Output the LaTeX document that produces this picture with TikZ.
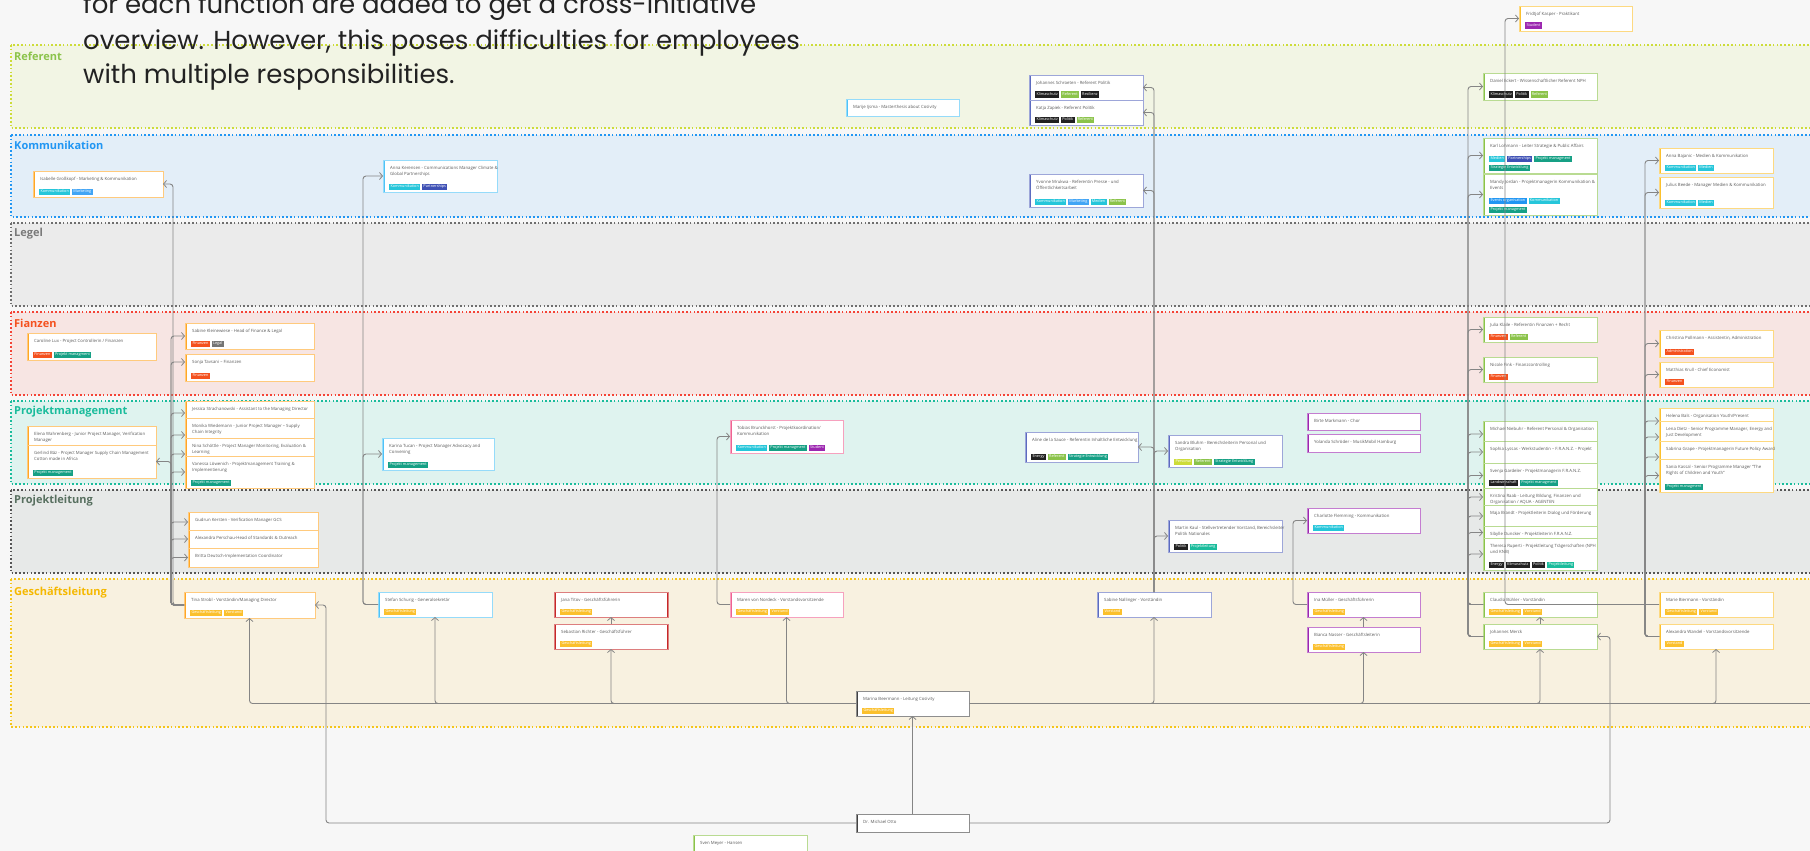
\documentclass[tikz,border=0pt]{standalone}
\usepackage{fontspec}
\setmainfont{Open Sans}
\newfontfamily\popfont{Poppins}
\usetikzlibrary{arrows.meta}

% page and lane colours
\definecolor{bgc}{HTML}{F7F7F7}
\definecolor{txt}{HTML}{5A5A5A}
\definecolor{wire}{HTML}{858585}
\definecolor{introtxt}{HTML}{222222}
\definecolor{fRef}{HTML}{F2F5E4}\definecolor{dRef}{HTML}{CDDC39}\definecolor{lRef}{HTML}{8BC34A}
\definecolor{fKom}{HTML}{E3EEF8}\definecolor{dKom}{HTML}{2196F3}\definecolor{lKom}{HTML}{2196F3}
\definecolor{fLeg}{HTML}{EBEBEB}\definecolor{dLeg}{HTML}{6E6E6E}\definecolor{lLeg}{HTML}{7A7A7A}
\definecolor{fFin}{HTML}{F7E5E3}\definecolor{dFin}{HTML}{F44336}\definecolor{lFin}{HTML}{F4511E}
\definecolor{fPM}{HTML}{DFF3EF}\definecolor{dPM}{HTML}{1ABC9C}\definecolor{lPM}{HTML}{1ABC9C}
\definecolor{fPL}{HTML}{E7E9E8}\definecolor{dPL}{HTML}{555555}\definecolor{lPL}{HTML}{587060}
\definecolor{fGL}{HTML}{F8F1E0}\definecolor{dGL}{HTML}{F5C518}\definecolor{lGL}{HTML}{F5B800}
% card accents
\definecolor{cOrange}{HTML}{FFA726}
\definecolor{cSky}{HTML}{4FC3F7}
\definecolor{cIndigo}{HTML}{5C6BC0}
\definecolor{cPurple}{HTML}{9C27B0}
\definecolor{cRed}{HTML}{C62828}
\definecolor{cPink}{HTML}{F06292}
\definecolor{cDark}{HTML}{424242}
\definecolor{cGreen}{HTML}{8BC34A}
\definecolor{cYellow}{HTML}{FBC02D}
% tag colours
\definecolor{tKom}{HTML}{26C6DA}
\definecolor{tMkt}{HTML}{42A5F5}
\definecolor{tPart}{HTML}{3F51B5}
\definecolor{tFin}{HTML}{F4511E}
\definecolor{tLegal}{HTML}{757575}
\definecolor{tPM}{HTML}{16A085}
\definecolor{tGL}{HTML}{FBC02D}
\definecolor{tBlack}{HTML}{212121}
\definecolor{tRef}{HTML}{8BC34A}
\definecolor{tPers}{HTML}{CDDC39}
\definecolor{tEvents}{HTML}{2196F3}
\definecolor{tStud}{HTML}{9C27B0}
\definecolor{tPL}{HTML}{1ABC9C}

% small coloured label inside a card
\newcommand\ctag[2]{{\setlength{\fboxsep}{1.3pt}\colorbox{#1}{\color{white}\rule[-1.1pt]{0pt}{4.1pt}#2}}\hspace{2pt}}

% card: name, x1, y1, x2, y2, style, title, tags
\newcommand\card[8]{%
  \node[#6, minimum width=#4pt-#2pt, minimum height=#5pt-#3pt] (#1) at (#2,#3) {};
  \node[cardtitle] (#1-t) at ([xshift=7pt,yshift=-6pt]#1.north west) {#7};
  \node[cardtags] (#1-g) at ([xshift=6pt,yshift=1.6pt]#1.south west) {#8};
}

\tikzset{
  lane/.style={fill=#1},
  laneline/.style={draw=#1, dash pattern=on 1.6pt off 2.2pt, line width=1.4pt},
  lanelabel/.style={anchor=west, inner sep=0pt, text=#1, font=\bfseries\fontsize{11}{13}\selectfont},
  card/.style={draw=#1!60, fill=white, line width=0.6pt, anchor=north west, inner sep=0pt, outer sep=0pt,
    path picture={\fill[#1] (path picture bounding box.south west) rectangle ([xshift=1.8pt]path picture bounding box.north west);}},
  cardlr/.style={card=#1,
    path picture={\fill[#1] (path picture bounding box.south west) rectangle ([xshift=1.8pt]path picture bounding box.north west);
                  \fill[#1] (path picture bounding box.south east) rectangle ([xshift=-1.5pt]path picture bounding box.north east);}},
  cardtitle/.style={anchor=north west, inner sep=0pt, align=left, text=txt, font=\fontsize{4.3}{6}\selectfont},
  cardtags/.style={anchor=south west, inner sep=0pt, align=left, font=\fontsize{3.8}{9}\selectfont},
  conn/.style={draw=wire, line width=0.9pt, rounded corners=3pt, -{Straight Barb[length=3pt,width=7pt,line width=0.8pt]}},
  wireline/.style={draw=wire, line width=0.9pt},
  intro/.style={anchor=base west, inner sep=0pt, text=introtxt, font=\popfont\fontsize{26}{34}\selectfont}
}

\begin{document}
\begin{tikzpicture}[x=1pt,y=-1pt]
\useasboundingbox (0,0) rectangle (1810,851);
\clip (0,0) rectangle (1810,851);
\fill[bgc] (0,0) rectangle (1810,851);

% swimlanes
\path[lane=fRef] (11,45) rectangle (1830,128);
\path[lane=fKom] (11,135) rectangle (1830,217);
\path[lane=fLeg] (11,223) rectangle (1830,306);
\path[lane=fFin] (11,312) rectangle (1830,395);
\path[lane=fPM]  (11,401) rectangle (1830,484);
\path[lane=fPL]  (11,490) rectangle (1830,573);
\path[lane=fGL]  (11,579) rectangle (1830,727);
\draw[laneline=dRef] (11,45) rectangle (1830,128);
\draw[laneline=dKom] (11,135) rectangle (1830,217);
\draw[laneline=dLeg] (11,223) rectangle (1830,306);
\draw[laneline=dFin] (11,312) rectangle (1830,395);
\draw[laneline=dPM]  (11,401) rectangle (1830,484);
\draw[laneline=dPL]  (11,490) rectangle (1830,573);
\draw[laneline=dGL]  (11,579) rectangle (1830,727);

\node[lanelabel=lRef] (lblRef) at (14,56) {Referent};
\node[lanelabel=lKom] (lblKom) at (14,145) {Kommunikation};
\node[lanelabel=lLeg] (lblLeg) at (14,234) {Legel};
\node[lanelabel=lFin] (lblFin) at (14,323) {Fianzen};
\node[lanelabel=lPM]  (lblPM)  at (14,412) {Projektmanagement};
\node[lanelabel=lPL]  (lblPL)  at (14,501) {Projektleitung};
\node[lanelabel=lGL]  (lblGL)  at (14,593) {Geschäftsleitung};

% explanatory text
\node[intro] (intro1) at (83,14) {for each function are added to get a cross-initiative};
\node[intro] (intro2) at (83,49) {overview. However, this poses difficulties for employees};
\node[intro] (intro3) at (83,84) {with multiple responsibilities.};

% ---- column 1
\card{isabelle}{33}{171}{163}{197}{card=cOrange}{Isabelle Großkopf - Marketing \& Kommunikation}{\ctag{tKom}{Kommunikation}\ctag{tMkt}{Marketing}}
\card{caroline}{27}{333}{156}{360}{card=cOrange}{Caroline Lux - Project Controllerin / Finanzen}{\ctag{tFin}{Finanzen}\ctag{tPM}{Projekt managment}}
\card{elena}{27}{426}{156}{450}{card=cOrange}{Elena Wahrenberg - Junior Project Manager, Verification\\Manager}{}
\card{gerlind}{27}{445}{156}{478}{card=cOrange}{Gerlind Bäz - Project Manager Supply Chain Management\\Cotton made in Africa}{\ctag{tPM}{Projekt management}}

% ---- column 2
\card{sabine}{185}{323}{314}{349}{card=cOrange}{Sabine Kleinewiese - Head of Finance \& Legal}{\ctag{tFin}{Finanzen}\ctag{tLegal}{Legal}}
\card{sonja}{185}{354}{314}{381}{card=cOrange}{Sonja Tavsani – Finanzen}{\ctag{tFin}{Finanzen}}
\card{jessica}{185}{401}{314}{425}{card=cOrange}{Jessica Strachanowski - Assistant to the Managing Director}{}
\card{monika}{185}{418}{314}{452}{card=cOrange}{Monika Wiedemann - Junior Project Manager – Supply\\Chain Integrity}{}
\card{nina}{185}{438}{314}{470}{card=cOrange}{Nina Schöttle - Project Manager Monitoring, Evaluation \&\\Learning}{}
\card{vanessa}{185}{456}{314}{488}{card=cOrange}{Vanessa Löwenich - Projektmanagement Training \&\\Implementierung}{\ctag{tPM}{Projekt management}}
\card{gudrun}{188}{512}{318}{532}{card=cOrange}{Gudrun Kersten - Verification Manager GCS}{}
\card{alexandra}{188}{530}{318}{548}{card=cOrange}{Alexandra Perschau-Head of Standards \& Outreach}{}
\card{britta}{188}{548}{318}{567}{card=cOrange}{Britta Deutsch-Implementation Coordinator}{}
\card{tina}{184}{592}{315}{618}{card=cOrange}{Tina Strobl - Vorständin/Managing Director}{\ctag{tGL}{Geschäftsleitung}\ctag{tGL}{Vorstand}}

% ---- column 3
\card{anna}{383}{160}{497}{192}{card=cSky}{Anna Kerensen - Communications Manager Climate \&\\Global Partnerships}{\ctag{tKom}{Kommunikation}\ctag{tPart}{Partnerships}}
\card{karina}{382}{438}{494}{470}{card=cSky}{Karina Tucan - Project Manager Advocacy and\\Convening}{\ctag{tPM}{Projekt management}}
\card{stefan}{378}{592}{492}{617}{card=cSky}{Stefan Schurig - Generalsekretär}{\ctag{tGL}{Geschäftsleitung}}

% ---- column 4
\card{jana}{554}{592}{668}{617}{cardlr=cRed}{Jana Titov - Geschäftsführerin}{\ctag{tGL}{Geschäftsleitung}}
\card{sebastian}{554}{624}{668}{649}{cardlr=cRed}{Sebastian Richter - Geschäftsführer}{\ctag{tGL}{Geschäftsleitung}}

% ---- centre
\card{tobias}{730}{420}{843}{453}{card=cPink}{Tobias Brunckhorst - Projektkoordination/\\Kommunikation}{\ctag{tKom}{Kommunikation}\ctag{tPM}{Projekt managment}\ctag{tStud}{Student}}
\card{maren}{730}{592}{843}{617}{card=cPink}{Maren von Nordeck - Vorstandsvorsitzende}{\ctag{tGL}{Geschäftsleitung}\ctag{tGL}{Vorstand}}
\card{marije}{846}{99}{959}{116}{card=cSky}{Marije Ijsma - Masterthesis about Cosivity}{}
\card{marina}{856}{691}{969}{716}{card=cDark}{Marina Beermann - Leitung Cosivity}{\ctag{tGL}{Geschäftsleitung}}
\card{otto}{856}{814}{969}{832}{card=cDark}{Dr. Michael Otto}{}
\card{sven}{693}{835}{807}{870}{card=cGreen}{Sven Meyer - Hansen}{}

% ---- column 7
\card{johannesS}{1029}{75}{1143}{100}{card=cIndigo}{Johannes Schroeten - Referent Politik}{\ctag{tBlack}{Klimaschutz}\ctag{tRef}{Referent}\ctag{tBlack}{Resilienz}}
\card{katja}{1029}{100}{1143}{125}{card=cIndigo}{Katja Zapiek - Referent Politik}{\ctag{tBlack}{Klimaschutz}\ctag{tBlack}{Politik}\ctag{tRef}{Referent}}
\card{yvonne}{1029}{174}{1143}{207}{card=cIndigo}{Yvonne Mrukwa - Referentin Presse - und\\Öffentlichkeitsarbeit}{\ctag{tKom}{Kommunikation}\ctag{tMkt}{Marketing}\ctag{tKom}{Medien}\ctag{tRef}{Referent}}
\card{aline}{1025}{432}{1138}{462}{card=cIndigo}{Aline de la Sauce - Referentin Inhaltliche Entwicklung}{\ctag{tBlack}{Energy}\ctag{tRef}{Referent}\ctag{tPM}{Strategie Entwicklung}}
\card{sandra}{1168}{435}{1282}{467}{card=cIndigo}{Sandra Bluhm - Bereichsleiterin Personal und\\Organisation}{\ctag{tPers}{Personal}\ctag{tRef}{Referent}\ctag{tPM}{Strategie Entwicklung}}
\card{martin}{1168}{520}{1282}{552}{card=cIndigo}{Martin Kaul - Stellvertretender Vorstand, Bereichsleiter\\Politik Nationales}{\ctag{tBlack}{Politik}\ctag{tPL}{Projektleitung}}
\card{sabineN}{1097}{592}{1211}{617}{card=cIndigo}{Sabine Nallinger - Vorständin}{\ctag{tGL}{Vorstand}}

% ---- column 8
\card{birte}{1307}{413}{1420}{430}{card=cPurple}{Birte Markmann - Chor}{}
\card{yolanda}{1307}{434}{1420}{452}{card=cPurple}{Yolanda Schröder - MusikMobil Hamburg}{}
\card{charlotte}{1307}{508}{1420}{533}{card=cPurple}{Charlotte Flemming - Kommunikation}{\ctag{tKom}{Kommunikation}}
\card{ina}{1307}{592}{1420}{617}{card=cPurple}{Ina Müller - Geschäftsführerin}{\ctag{tGL}{Geschäftsleitung}}
\card{bianca}{1307}{627}{1420}{652}{card=cPurple}{Bianca Nasser - Geschäftsleiterin}{\ctag{tGL}{Geschäftsleitung}}

% ---- column 9
\card{fridtjof}{1519}{6}{1632}{31}{card=cYellow}{Fridtjof Kasper - Praktikant}{\ctag{tStud}{Student}}
\card{daniel}{1483}{73}{1597}{100}{card=cGreen}{Daniel Eckert - Wissenschaftlicher Referent NPH}{\ctag{tBlack}{Klimaschutz}\ctag{tBlack}{Politik}\ctag{tRef}{Referent}}
\card{karl}{1483}{138}{1597}{173}{card=cGreen}{Karl Lohmann - Leiter Strategie \& Public Affairs}{\ctag{tKom}{Medien}\ctag{tPart}{Partnerships}\ctag{tPM}{Projekt managment}\\\ctag{tPM}{Strategie Entwicklung}}
\card{mandy}{1483}{174}{1597}{215}{card=cGreen}{Mandy Jordan - Projektmanagerin Kommunikation \&\\Events}{\ctag{tEvents}{Events organisation}\ctag{tKom}{Kommunikation}\\\ctag{tPM}{Projekt managment}}
\card{julia}{1483}{317}{1597}{342}{card=cGreen}{Julia Klaile - Referentin Finanzen + Recht}{\ctag{tFin}{Finanzen}\ctag{tRef}{Referent}}
\card{nicole}{1483}{357}{1597}{382}{card=cGreen}{Nicole Fink - Finanzcontrolling}{\ctag{tFin}{Finanzen}}
\card{michael}{1483}{421}{1597}{447}{card=cGreen}{Michael Niebuhr - Referent Personal \& Organisation}{}
\card{sophia}{1483}{441}{1597}{463}{card=cGreen}{Sophia Lyssas - Werkstudentin – F.R.A.N.Z. - Projekt}{}
\card{svenja}{1483}{463}{1597}{488}{card=cGreen}{Svenja Gardeler - Projektmanagerin F.R.A.N.Z.}{\ctag{tBlack}{Landwirtschaft}\ctag{tPM}{Projekt managment}}
\card{kristina}{1483}{488}{1597}{506}{card=cGreen}{Kristina Raab - Leitung Bildung, Finanzen und\\Organisation / AQUA - AGENTEN}{}
\card{maja}{1483}{505}{1597}{527}{card=cGreen}{Maja Brandt - Projektleiterin Dialog und Förderung}{}
\card{sibylle}{1483}{526}{1597}{539}{card=cGreen}{Sibylle Duncker - Projektleiterin F.R.A.N.Z.}{}
\card{theresa}{1483}{538}{1597}{570}{card=cGreen}{Theresa Ruperti - Projektleitung Trägerschaften (NPH\\und KNB)}{\ctag{tBlack}{Energy}\ctag{tBlack}{Klimaschutz}\ctag{tBlack}{Politik}\ctag{tPL}{Projektleitung}}
\card{claudia}{1483}{592}{1597}{617}{card=cGreen}{Claudia Bühler - Vorständin}{\ctag{tGL}{Geschäftsleitung}\ctag{tGL}{Vorstand}}
\card{johannesM}{1483}{624}{1597}{649}{card=cGreen}{Johannes Merck}{\ctag{tGL}{Geschäftsleitung}\ctag{tGL}{Vorstand}}

% ---- column 10
\card{annaB}{1659}{148}{1773}{173}{card=cYellow}{Anna Bajanic - Medien \& Kommunikation}{\ctag{tKom}{Kommunikation}\ctag{tKom}{Medien}}
\card{julius}{1659}{177}{1773}{208}{card=cYellow}{Julius Beede - Manager Medien \& Kommunikation}{\ctag{tKom}{Kommunikation}\ctag{tKom}{Medien}}
\card{christina}{1659}{330}{1773}{357}{card=cYellow}{Christina Pollmann - Assistentin, Administration}{\ctag{tFin}{Administration}}
\card{matthias}{1659}{362}{1773}{387}{card=cYellow}{Matthias Krull - Chief Economist}{\ctag{tFin}{Finanzen}}
\card{helena}{1659}{408}{1773}{434}{card=cYellow}{Helena Bals - Organisation Youth/Present}{}
\card{lena}{1659}{421}{1773}{453}{card=cYellow}{Lena Dietz - Senior Programme Manager, Energy and\\Just Development}{}
\card{sabrina}{1659}{441}{1773}{473}{card=cYellow}{Sabrina Grape - Projektmanagerin Future Policy Award}{}
\card{sania}{1659}{459}{1773}{492}{card=cYellow}{Sania Kassal - Senior Programme Manager “The\\Rights of Children and Youth”}{\ctag{tPM}{Projekt managment}}
\card{marie}{1659}{592}{1773}{617}{card=cYellow}{Marie Biermann - Vorständin}{\ctag{tGL}{Geschäftsleitung}\ctag{tGL}{Vorstand}}
\card{alexW}{1659}{624}{1773}{649}{card=cYellow}{Alexandra Wandel - Vorstandsvorsitzende}{\ctag{tGL}{Vorstand}}

% ---- reporting lines
\draw[conn] (tina.west) -- ++(-11,0) |- (isabelle.east);
\foreach \tgt in {sabine,jessica,monika,nina,vanessa,gudrun,alexandra,britta}
  \draw[conn] (tina.west) -- ++(-13,0) |- (\tgt.west);
\draw[conn] (tina.west) -- ++(-13,0) |- ([yshift=5.5pt]sonja.west);
\draw[conn] (tina.west) -- ++(-13,0) |- (gerlind.east);

\foreach \tgt in {anna,karina}
  \draw[conn] (stefan.west) -- ++(-15,0) |- (\tgt.west);
\draw[conn] (maren.west) -- ++(-13,0) |- (tobias.west);

\foreach \tgt in {johannesS,katja,yvonne,aline}
  \draw[conn] (sabineN.north) |- (\tgt.east);
\foreach \tgt in {sandra,martin}
  \draw[conn] (sabineN.north) |- (\tgt.west);

\draw[conn] (ina.west) -- ++(-14,0) |- (charlotte.west);
\draw[conn] (marie.west) -- ++(-154,0) |- (fridtjof.west);

\foreach \tgt in {annaB,julius,christina,matthias,helena,lena,sabrina,sania}
  \draw[conn] (alexW.west) -- ++(-14,0) |- (\tgt.west);
\foreach \tgt in {daniel,karl,mandy,julia,nicole}
  \draw[conn] (claudia.west) -- ++(-15,0) |- (\tgt.west);
\foreach \tgt in {michael,sophia,svenja,kristina,maja,sibylle,theresa}
  \draw[conn] (johannesM.west) -- ++(-15,0) |- (\tgt.west);

\draw[conn] (otto.north) -- (marina.south);
\draw[conn] (otto.west) -| ([xshift=11pt]tina.east) -- (tina.east);
\draw[conn] (otto.east) -| ([xshift=13pt]johannesM.east) -- (johannesM.east);

\foreach \tgt in {tina,stefan,sebastian,maren}
  \draw[conn] (marina.west) -| (\tgt.south);
\foreach \tgt in {sabineN,bianca,johannesM,alexW}
  \draw[conn] (marina.east) -| (\tgt.south);
\draw[conn] (sebastian.north) -- (jana.south);
\draw[conn] (bianca.north) -- (ina.south);
\draw[conn] (johannesM.north) -- (claudia.south);
\coordinate (edgeR) at (1820,703.5);
\draw[wireline] (marina.east) -- (edgeR);
\end{tikzpicture}
\end{document}
